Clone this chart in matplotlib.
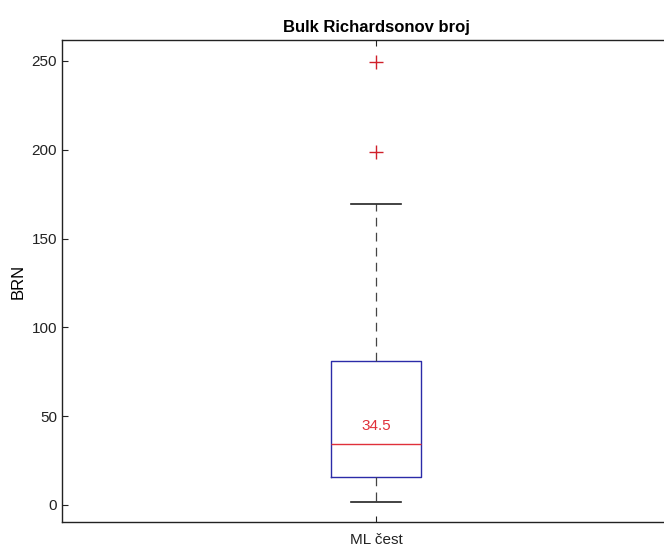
import numpy as np
import matplotlib
matplotlib.use("Agg")
import matplotlib.pyplot as plt

plt.rcParams['font.family'] = ['Liberation Sans', 'DejaVu Sans']

# box statistics
category = "ML čest"
q1, med, q3 = 16.0, 34.5, 81.0
whis_lo, whis_hi = 1.5, 169.5
outliers = [199.0, 249.5]
yticks = [0, 50, 100, 150, 200, 250]

fig = plt.figure(figsize=(6.64, 5.5), dpi=100)
ax = fig.add_axes([62/664, 1 - 522/550, 628/664, 482/550])

stats = [dict(med=med, q1=q1, q3=q3, whislo=whis_lo, whishi=whis_hi,
              fliers=outliers, label=category)]
ax.bxp(stats, positions=[1], widths=0.143, showfliers=True,
       boxprops=dict(color='#2b2ba8', lw=1.0),
       medianprops=dict(color='#e0303a', lw=1.0),
       whiskerprops=dict(color='#444444', lw=0.9, linestyle=(0, (7, 5))),
       capprops=dict(color='#222222', lw=1.2),
       capwidths=0.08,
       flierprops=dict(marker='+', markeredgecolor='#d0202a', markersize=10,
                       markeredgewidth=1.0, linestyle='none'))

ax.text(1, med + 6, f"{med}", color='#e0303a', ha='center', va='bottom', fontsize=11)

ax.set_xlim(0.5, 1.5)
ax.set_ylim(-9.6, 261.8)
ax.set_yticks(yticks)
ax.set_xticks([1])
ax.set_xticklabels([category])
ax.tick_params(direction='in', length=4, labelsize=11, colors='#222222',
               top=True, right=True)
ax.tick_params(axis='x', pad=8)
for s in ax.spines.values():
    s.set_color('#222222')
    s.set_linewidth(1.0)

ax.set_ylabel("BRN", fontsize=12)
ax.set_title("Bulk Richardsonov broj", fontsize=12, fontweight='bold', pad=6)

fig.savefig("out.png", dpi=100)
